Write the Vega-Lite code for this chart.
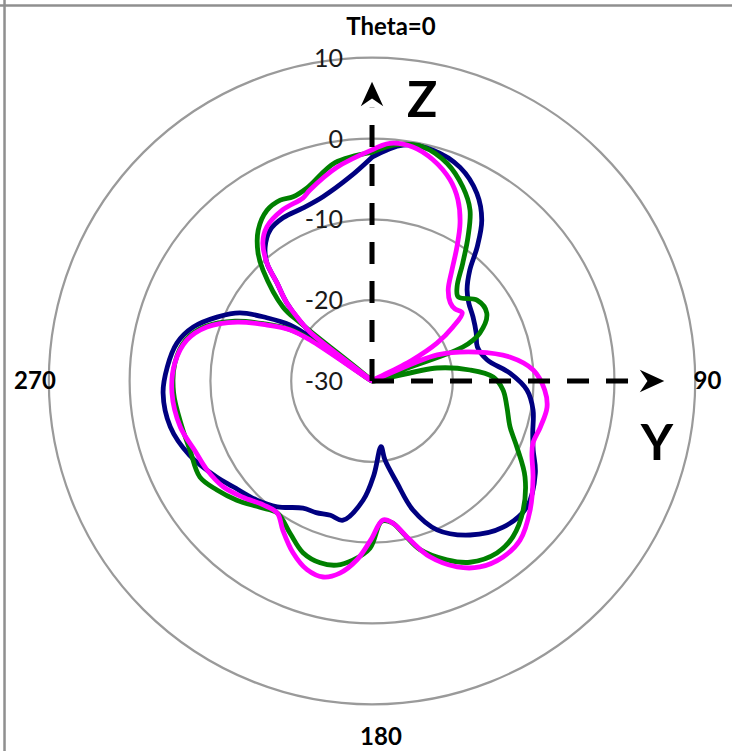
{
  "$schema": "https://vega.github.io/schema/vega-lite/v6.json",
  "width": 732,
  "height": 751,
  "autosize": {"type": "none"},
  "padding": 0,
  "background": "white",
  "config": {"view": {"stroke": null}},
  "datasets": {
    "curves": [
      {"s":"N","t":0,"db":-2.3},{"s":"N","t":7.5,"db":-0.55},{"s":"N","t":14.8,"db":-0.45},{"s":"N","t":22.4,"db":-1.4},{"s":"N","t":29.2,"db":-3.4},{"s":"N","t":34.3,"db":-5.9},{"s":"N","t":38.1,"db":-8.9},{"s":"N","t":41.4,"db":-11.7},{"s":"N","t":46.2,"db":-13.7},{"s":"N","t":51,"db":-14.6},{"s":"N","t":57.6,"db":-15.2},{"s":"N","t":65.2,"db":-15.8},{"s":"N","t":72.1,"db":-16.3},{"s":"N","t":79.7,"db":-15.5},{"s":"N","t":86.7,"db":-12.9},{"s":"N","t":93.3,"db":-10.8},{"s":"N","t":100.2,"db":-9.75},{"s":"N","t":107.9,"db":-9.1},{"s":"N","t":113.2,"db":-8.3},{"s":"N","t":119.4,"db":-6.8},{"s":"N","t":129.1,"db":-5.3},{"s":"N","t":138.1,"db":-5.7},{"s":"N","t":147.5,"db":-7.4},{"s":"N","t":156.4,"db":-9.9},{"s":"N","t":162.4,"db":-13.25},{"s":"N","t":166.2,"db":-17},{"s":"N","t":170.7,"db":-20.1},{"s":"N","t":172.2,"db":-21.8},{"s":"N","t":178.8,"db":-18.4},{"s":"N","t":184.3,"db":-15.2},{"s":"N","t":191.8,"db":-12.4},{"s":"N","t":197.2,"db":-12.6},{"s":"N","t":203,"db":-12.3},{"s":"N","t":208.5,"db":-12.1},{"s":"N","t":217,"db":-10.5},{"s":"N","t":224,"db":-9.5},{"s":"N","t":232.7,"db":-8.4},{"s":"N","t":238.2,"db":-7.4},{"s":"N","t":248,"db":-5.6},{"s":"N","t":257.2,"db":-4.4},{"s":"N","t":266.7,"db":-4.1},{"s":"N","t":273.9,"db":-4.6},{"s":"N","t":281,"db":-5.4},{"s":"N","t":286.8,"db":-6.9},{"s":"N","t":292.4,"db":-9.25},{"s":"N","t":297.3,"db":-11.6},{"s":"N","t":301,"db":-14.8},{"s":"N","t":304.3,"db":-17.7},{"s":"N","t":305.4,"db":-20.6},{"s":"N","t":306.3,"db":-30},{"s":"N","t":308.3,"db":-20.2},{"s":"N","t":312.5,"db":-15.7},{"s":"N","t":315.9,"db":-13.1},{"s":"N","t":318.3,"db":-10.45},{"s":"N","t":321.4,"db":-8.8},{"s":"N","t":326,"db":-7.45},{"s":"N","t":331.4,"db":-7},{"s":"N","t":338.3,"db":-6.95},{"s":"N","t":345.1,"db":-6.4},{"s":"N","t":353.8,"db":-4.6},{"s":"N","t":360,"db":-2.3},
      {"s":"G","t":0,"db":-1.7},{"s":"G","t":6,"db":-0.6},{"s":"G","t":12.3,"db":-0.35},{"s":"G","t":19,"db":-1.5},{"s":"G","t":25.1,"db":-3.5},{"s":"G","t":29.8,"db":-5.6},{"s":"G","t":33.7,"db":-8.6},{"s":"G","t":37.6,"db":-11.6},{"s":"G","t":42.1,"db":-14.3},{"s":"G","t":45.7,"db":-15.1},{"s":"G","t":52.4,"db":-13.6},{"s":"G","t":59.4,"db":-13.5},{"s":"G","t":66,"db":-15.4},{"s":"G","t":69.5,"db":-18},{"s":"G","t":71,"db":-30},{"s":"G","t":78.7,"db":-21.8},{"s":"G","t":83.6,"db":-17.8},{"s":"G","t":88.1,"db":-15},{"s":"G","t":93.9,"db":-13.75},{"s":"G","t":100.9,"db":-13},{"s":"G","t":108.4,"db":-12},{"s":"G","t":114.5,"db":-10.3},{"s":"G","t":122.1,"db":-7.65},{"s":"G","t":130.5,"db":-5.4},{"s":"G","t":137.9,"db":-4},{"s":"G","t":144,"db":-3.7},{"s":"G","t":151.6,"db":-4.5},{"s":"G","t":157.3,"db":-6},{"s":"G","t":164.1,"db":-8.3},{"s":"G","t":168,"db":-10.5},{"s":"G","t":172,"db":-12.3},{"s":"G","t":176,"db":-12.6},{"s":"G","t":180.7,"db":-9.3},{"s":"G","t":186.1,"db":-7.7},{"s":"G","t":190.8,"db":-6.8},{"s":"G","t":195.9,"db":-6.6},{"s":"G","t":201.9,"db":-7.1},{"s":"G","t":208.3,"db":-8.6},{"s":"G","t":215.7,"db":-9.9},{"s":"G","t":221.6,"db":-9.1},{"s":"G","t":228.6,"db":-7.7},{"s":"G","t":234.9,"db":-6.55},{"s":"G","t":240.8,"db":-5.6},{"s":"G","t":249.2,"db":-5.9},{"s":"G","t":256.5,"db":-5.8},{"s":"G","t":266.6,"db":-5.4},{"s":"G","t":275.2,"db":-5.5},{"s":"G","t":282.5,"db":-6.4},{"s":"G","t":288.1,"db":-8.3},{"s":"G","t":293.6,"db":-11.5},{"s":"G","t":298.1,"db":-15},{"s":"G","t":301.9,"db":-17.8},{"s":"G","t":304,"db":-20.6},{"s":"G","t":305.5,"db":-30},{"s":"G","t":309,"db":-18.6},{"s":"G","t":309.7,"db":-15.7},{"s":"G","t":315.5,"db":-10.75},{"s":"G","t":318.3,"db":-8.8},{"s":"G","t":323,"db":-6.6},{"s":"G","t":328.4,"db":-5.2},{"s":"G","t":333.1,"db":-4.9},{"s":"G","t":336.8,"db":-5.2},{"s":"G","t":341.4,"db":-4.8},{"s":"G","t":350.4,"db":-2.6},{"s":"G","t":360,"db":-1.7},
      {"s":"M","t":0,"db":-1.4},{"s":"M","t":4.3,"db":-0.5},{"s":"M","t":9.9,"db":-0.6},{"s":"M","t":15.4,"db":-1.6},{"s":"M","t":21.2,"db":-3.3},{"s":"M","t":25.4,"db":-5.2},{"s":"M","t":29.1,"db":-7.6},{"s":"M","t":32.4,"db":-10.4},{"s":"M","t":35.8,"db":-13.1},{"s":"M","t":39.9,"db":-15.3},{"s":"M","t":45,"db":-16.3},{"s":"M","t":49,"db":-16.4},{"s":"M","t":52.9,"db":-16},{"s":"M","t":56.3,"db":-18},{"s":"M","t":59.7,"db":-20.7},{"s":"M","t":62.5,"db":-24.5},{"s":"M","t":65,"db":-30},{"s":"M","t":68.2,"db":-21.3},{"s":"M","t":74.6,"db":-16.5},{"s":"M","t":80.1,"db":-12.7},{"s":"M","t":86.1,"db":-10},{"s":"M","t":93,"db":-8.6},{"s":"M","t":98.5,"db":-8.1},{"s":"M","t":105.3,"db":-8.4},{"s":"M","t":111.1,"db":-8.65},{"s":"M","t":114.8,"db":-8.2},{"s":"M","t":120.8,"db":-6.8},{"s":"M","t":129.2,"db":-4.75},{"s":"M","t":137.1,"db":-3.1},{"s":"M","t":143.3,"db":-2.85},{"s":"M","t":149.9,"db":-3.4},{"s":"M","t":155.4,"db":-4.7},{"s":"M","t":161.8,"db":-7.1},{"s":"M","t":166.6,"db":-9.8},{"s":"M","t":171.6,"db":-12.2},{"s":"M","t":175.5,"db":-12.75},{"s":"M","t":180.5,"db":-10.3},{"s":"M","t":184.8,"db":-7.8},{"s":"M","t":189.5,"db":-5.9},{"s":"M","t":194,"db":-5},{"s":"M","t":199,"db":-5.3},{"s":"M","t":204.7,"db":-6.6},{"s":"M","t":210.9,"db":-8.5},{"s":"M","t":215.7,"db":-9.9},{"s":"M","t":221.3,"db":-9.6},{"s":"M","t":228,"db":-8.5},{"s":"M","t":234.6,"db":-7.4},{"s":"M","t":241.7,"db":-6.8},{"s":"M","t":248.4,"db":-6.45},{"s":"M","t":256.5,"db":-5.6},{"s":"M","t":266.6,"db":-5.2},{"s":"M","t":275.2,"db":-5.5},{"s":"M","t":282.5,"db":-6.55},{"s":"M","t":288.1,"db":-8.5},{"s":"M","t":293.6,"db":-11.8},{"s":"M","t":298.1,"db":-15.3},{"s":"M","t":301.9,"db":-18},{"s":"M","t":303.5,"db":-20.8},{"s":"M","t":305.5,"db":-30},{"s":"M","t":308.3,"db":-20.2},{"s":"M","t":310.5,"db":-17.8},{"s":"M","t":312.5,"db":-15.7},{"s":"M","t":315.9,"db":-13.1},{"s":"M","t":318.3,"db":-10.45},{"s":"M","t":321.7,"db":-8.2},{"s":"M","t":325.7,"db":-6.9},{"s":"M","t":332.5,"db":-6.1},{"s":"M","t":339.3,"db":-5.8},{"s":"M","t":342,"db":-5.15},{"s":"M","t":350.7,"db":-3.2},{"s":"M","t":360,"db":-1.4}
    ],
    "rings": [{"db": -20}, {"db": -10}, {"db": 0}, {"db": 10}],
    "ringLabels": [{"db": -30, "label": "-30"}, {"db": -20, "label": "-20"}, {"db": -10, "label": "-10"}, {"db": 0, "label": "0"}, {"db": 10, "label": "10"}],
    "catLabels": [{"label": "Theta=0", "t": 3.08, "r": 43.75}, {"label": "90", "t": 90.1, "r": 41.52}, {"label": "180", "t": 178.56, "r": 44.2}, {"label": "270", "t": 269.9, "r": 41.71}],
    "axisTitles": [{"label": "Z", "t": 10.16, "r": 35.08}, {"label": "Y", "t": 102.66, "r": 36.15}],
    "axes": [{"t": 0, "r": 33.8}, {"t": 90, "r": 33.2}],
    "heads": [{"t": 0, "r": 35.46}, {"t": 90, "r": 34.59}],
    "frameTop": [{"v": 46.47}],
    "frameLeft": [{"v": -45.48}]
  },
  "layer": [
    {
      "data": {"name": "frameTop"},
      "mark": {"type": "rule", "color": "#8f8f8f", "strokeWidth": 2.5},
      "encoding": {"y": {"field": "v", "type": "quantitative", "scale": {"domain": [-45.79, 47.15], "nice": false, "zero": false}, "axis": null}}
    },
    {
      "data": {"name": "frameLeft"},
      "mark": {"type": "rule", "color": "#8f8f8f", "strokeWidth": 2.5},
      "encoding": {"x": {"field": "v", "type": "quantitative", "scale": {"domain": [-46.04, 44.55], "nice": false, "zero": false}, "axis": null}}
    },
    {
      "data": {"name": "rings"},
      "transform": [{"calculate": "datum.db + 30", "as": "r"}, {"calculate": "0", "as": "c"}],
      "mark": {"type": "point", "shape": "circle", "filled": false, "stroke": "#9a9a9a", "strokeWidth": 2.2, "opacity": 1},
      "encoding": {
        "x": {"field": "c", "type": "quantitative", "scale": {"domain": [-46.04, 44.55], "nice": false, "zero": false}, "axis": null},
        "y": {"field": "c", "type": "quantitative", "scale": {"domain": [-45.79, 47.15], "nice": false, "zero": false}, "axis": null},
        "size": {"field": "r", "type": "quantitative", "scale": {"type": "pow", "exponent": 2, "domain": [0, 40], "range": [0, 417833]}, "legend": null}
      }
    },
    {
      "data": {"name": "curves"},
      "transform": [
        {"filter": "datum.s === 'N'"},
        {"calculate": "max(datum.db + 30, 0)", "as": "r"},
        {"calculate": "datum.r * sin(datum.t * PI / 180)", "as": "x"},
        {"calculate": "datum.r * cos(datum.t * PI / 180)", "as": "y"}
      ],
      "mark": {"type": "line", "color": "#000080", "strokeWidth": 4.8, "strokeJoin": "round", "strokeCap": "round", "interpolate": "catmull-rom"},
      "encoding": {
        "x": {"field": "x", "type": "quantitative", "scale": {"domain": [-46.04, 44.55], "nice": false, "zero": false}, "axis": null},
        "y": {"field": "y", "type": "quantitative", "scale": {"domain": [-45.79, 47.15], "nice": false, "zero": false}, "axis": null},
        "order": {"field": "t", "type": "quantitative"}
      }
    },
    {
      "data": {"name": "curves"},
      "transform": [
        {"filter": "datum.s === 'G'"},
        {"calculate": "max(datum.db + 30, 0)", "as": "r"},
        {"calculate": "datum.r * sin(datum.t * PI / 180)", "as": "x"},
        {"calculate": "datum.r * cos(datum.t * PI / 180)", "as": "y"}
      ],
      "mark": {"type": "line", "color": "#008000", "strokeWidth": 4.8, "strokeJoin": "round", "strokeCap": "round", "interpolate": "catmull-rom"},
      "encoding": {
        "x": {"field": "x", "type": "quantitative", "scale": {"domain": [-46.04, 44.55], "nice": false, "zero": false}, "axis": null},
        "y": {"field": "y", "type": "quantitative", "scale": {"domain": [-45.79, 47.15], "nice": false, "zero": false}, "axis": null},
        "order": {"field": "t", "type": "quantitative"}
      }
    },
    {
      "data": {"name": "curves"},
      "transform": [
        {"filter": "datum.s === 'M'"},
        {"calculate": "max(datum.db + 30, 0)", "as": "r"},
        {"calculate": "datum.r * sin(datum.t * PI / 180)", "as": "x"},
        {"calculate": "datum.r * cos(datum.t * PI / 180)", "as": "y"}
      ],
      "mark": {"type": "line", "color": "#FF00FF", "strokeWidth": 4.8, "strokeJoin": "round", "strokeCap": "round", "interpolate": "catmull-rom"},
      "encoding": {
        "x": {"field": "x", "type": "quantitative", "scale": {"domain": [-46.04, 44.55], "nice": false, "zero": false}, "axis": null},
        "y": {"field": "y", "type": "quantitative", "scale": {"domain": [-45.79, 47.15], "nice": false, "zero": false}, "axis": null},
        "order": {"field": "t", "type": "quantitative"}
      }
    },
    {
      "data": {"name": "ringLabels"},
      "transform": [{"calculate": "datum.db + 30", "as": "r"}, {"calculate": "0", "as": "c"}],
      "mark": {"type": "text", "align": "right", "baseline": "middle", "dx": -29, "dy": 1, "font": "Lato", "fontSize": 25, "color": "#1a1a1a"},
      "encoding": {
        "x": {"field": "c", "type": "quantitative", "scale": {"domain": [-46.04, 44.55], "nice": false, "zero": false}, "axis": null},
        "y": {"field": "r", "type": "quantitative", "scale": {"domain": [-45.79, 47.15], "nice": false, "zero": false}, "axis": null},
        "text": {"field": "label", "type": "nominal"}
      }
    },
    {
      "data": {"name": "axes"},
      "transform": [
        {"calculate": "0", "as": "c"},
        {"calculate": "datum.r * sin(datum.t * PI / 180)", "as": "xe"},
        {"calculate": "datum.r * cos(datum.t * PI / 180)", "as": "ye"}
      ],
      "mark": {"type": "rule", "color": "black", "strokeWidth": 5, "strokeDash": [22, 17]},
      "encoding": {
        "x": {"field": "c", "type": "quantitative", "scale": {"domain": [-46.04, 44.55], "nice": false, "zero": false}, "axis": null},
        "y": {"field": "c", "type": "quantitative", "scale": {"domain": [-45.79, 47.15], "nice": false, "zero": false}, "axis": null},
        "x2": {"field": "xe"},
        "y2": {"field": "ye"}
      }
    },
    {
      "data": {"name": "heads"},
      "transform": [
        {"calculate": "datum.r * sin(datum.t * PI / 180)", "as": "x"},
        {"calculate": "datum.r * cos(datum.t * PI / 180)", "as": "y"}
      ],
      "mark": {"type": "point", "shape": "M0,-1L0.88,0.92L0,0.32L-0.88,0.92Z", "filled": true, "color": "black", "opacity": 1, "size": 650},
      "encoding": {
        "x": {"field": "x", "type": "quantitative", "scale": {"domain": [-46.04, 44.55], "nice": false, "zero": false}, "axis": null},
        "y": {"field": "y", "type": "quantitative", "scale": {"domain": [-45.79, 47.15], "nice": false, "zero": false}, "axis": null},
        "angle": {"field": "t", "type": "quantitative", "scale": {"domain": [0, 360], "range": [0, 360]}}
      }
    },
    {
      "data": {"name": "catLabels"},
      "transform": [
        {"calculate": "datum.r * sin(datum.t * PI / 180)", "as": "x"},
        {"calculate": "datum.r * cos(datum.t * PI / 180)", "as": "y"}
      ],
      "mark": {"type": "text", "align": "center", "baseline": "middle", "font": "Lato", "fontWeight": "bold", "fontSize": 24, "color": "black"},
      "encoding": {
        "x": {"field": "x", "type": "quantitative", "scale": {"domain": [-46.04, 44.55], "nice": false, "zero": false}, "axis": null},
        "y": {"field": "y", "type": "quantitative", "scale": {"domain": [-45.79, 47.15], "nice": false, "zero": false}, "axis": null},
        "text": {"field": "label", "type": "nominal"}
      }
    },
    {
      "data": {"name": "axisTitles"},
      "transform": [
        {"calculate": "datum.r * sin(datum.t * PI / 180)", "as": "x"},
        {"calculate": "datum.r * cos(datum.t * PI / 180)", "as": "y"}
      ],
      "mark": {"type": "text", "align": "center", "baseline": "middle", "font": "Lato", "fontWeight": "bold", "fontSize": 50, "color": "black"},
      "encoding": {
        "x": {"field": "x", "type": "quantitative", "scale": {"domain": [-46.04, 44.55], "nice": false, "zero": false}, "axis": null},
        "y": {"field": "y", "type": "quantitative", "scale": {"domain": [-45.79, 47.15], "nice": false, "zero": false}, "axis": null},
        "text": {"field": "label", "type": "nominal"}
      }
    }
  ]
}
